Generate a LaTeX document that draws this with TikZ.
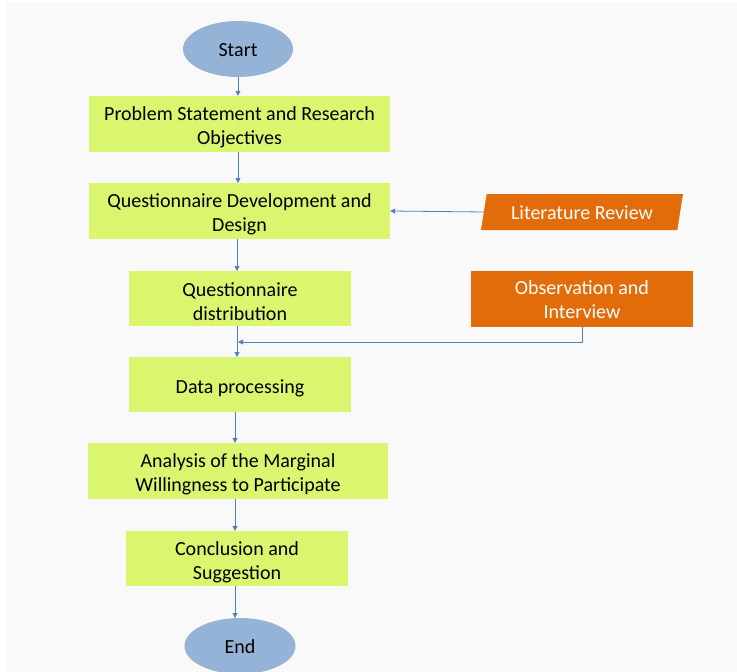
\documentclass[tikz,border=0pt]{standalone}
\usepackage{fontspec}
\setmainfont{Carlito}
\usetikzlibrary{shapes.geometric,arrows.meta}
\definecolor{bgc}{HTML}{F9F9F9}
\definecolor{boxg}{HTML}{DAF56E}
\definecolor{orng}{HTML}{E36C0A}
\definecolor{ellb}{HTML}{95B3D7}
\definecolor{arr}{HTML}{4F81BD}
\newcommand\tstrut{\rule{0pt}{21pt}}
\newcommand\ostrut{\rule{0pt}{16pt}}
\tikzset{
  gbox/.style={fill=boxg, draw=none, align=center, font=\fontsize{20}{24}\selectfont, text=black, inner sep=0pt},
  obox/.style={fill=orng, draw=none, align=center, font=\fontsize{20}{24}\selectfont, text=white, inner sep=0pt},
  term/.style={ellipse, fill=ellb, draw=none, font=\fontsize{20}{24}\selectfont, inner sep=0pt},
  conn/.style={draw=arr, line width=0.8pt, -{Triangle[length=5pt,width=5pt]}},
}
\begin{document}
\begin{tikzpicture}[x=1pt,y=-1pt]
\useasboundingbox (0,0) rectangle (737,672);
\fill[white] (0,0) rectangle (737,672);
\fill[bgc] (6,3) rectangle (737,672);
\begin{scope}
\clip (0,0) rectangle (737,672);
\node[term, minimum width=110pt, minimum height=56pt] (start) at (238,49) {\ostrut Start};
\node[term, minimum width=111pt, minimum height=56pt] (end) at (240,646) {\ostrut End};
\end{scope}
\node[gbox, minimum width=301pt, minimum height=56pt] (prob) at (239.5,124) {\tstrut Problem Statement and Research\\Objectives};
\node[gbox, minimum width=301pt, minimum height=56pt] (qdev) at (239.5,211) {\tstrut Questionnaire Development and\\Design};
\node[gbox, minimum width=222pt, minimum height=55pt] (qdist) at (240,298.5) {\tstrut Questionnaire\\distribution};
\node[gbox, minimum width=222pt, minimum height=55pt] (data) at (240,384.5) {\tstrut Data processing};
\node[gbox, minimum width=300pt, minimum height=56pt] (anal) at (238,471) {\tstrut Analysis of the Marginal\\Willingness to Participate};
\node[gbox, minimum width=222pt, minimum height=55pt] (concl) at (237,558.5) {\tstrut Conclusion and\\Suggestion};
\node[trapezium, trapezium left angle=76, trapezium right angle=104, fill=orng, draw=none, text=white, font=\fontsize{20}{24}\selectfont, minimum width=202pt, minimum height=36pt, inner xsep=0pt, trapezium stretches body] (lit) at (582,212) {\ostrut Literature Review};
\node[obox, minimum width=222pt, minimum height=56pt] (obs) at (582,299) {\ostrut Observation and\\Interview};
\coordinate (join) at (238,342);
\draw[conn] (start.south |- 0,77) -- (start.south |- prob.north);
\draw[conn] (238,152) -- (238,183);
\draw[conn] (237,239) -- (237,271);
\draw[conn] (237,326) -- (237,357);
\draw[conn] (235,412) -- (235,443);
\draw[conn] (235,499) -- (235,531);
\draw[conn] (235,586) -- (235,618);
\draw[conn] (485,212) -- (qdev.east);
\draw[conn] (obs.south) |- (join);
\end{tikzpicture}
\end{document}
